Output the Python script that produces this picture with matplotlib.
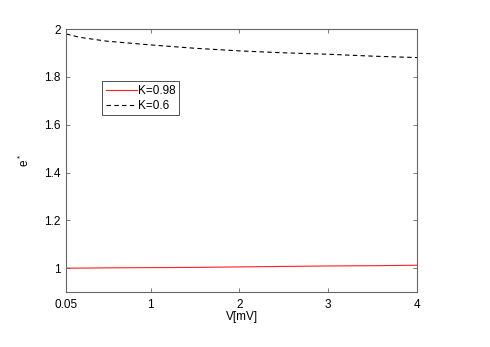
import numpy as np
import matplotlib
matplotlib.use('Agg')
import matplotlib.pyplot as plt

V = [0.05, 0.2, 0.5, 1.0, 1.5, 2.0, 2.5, 3.0, 3.5, 4.0]
e_k098 = [1.000, 1.000, 1.001, 1.002, 1.003, 1.005, 1.007, 1.009, 1.010, 1.012]
e_k06 = [1.980, 1.966, 1.950, 1.934, 1.920, 1.909, 1.901, 1.895, 1.887, 1.881]

xticks = [0.05, 1, 2, 3, 4]
xticklabels = ['0.05', '1', '2', '3', '4']
yticks = [1, 1.2, 1.4, 1.6, 1.8, 2]
yticklabels = ['1', '1.2', '1.4', '1.6', '1.8', '2']

AX_COLOR = '0.4'

plt.rcParams['font.family'] = ['Liberation Sans', 'DejaVu Sans']
plt.rcParams['mathtext.fontset'] = 'custom'
plt.rcParams['mathtext.it'] = 'Liberation Sans'
plt.rcParams['mathtext.rm'] = 'Liberation Sans'

fig = plt.figure(figsize=(4.9, 3.47), dpi=100)
ax = fig.add_axes([0.135, 0.1585, 0.716, 0.7575])

ax.plot(V, e_k098, color='#ff2020', lw=0.8, label='K=0.98')
ax.plot(V, e_k06, color='black', lw=0.8, ls=(0, (4, 3)), label='K=0.6')

ax.set_xlim(0.05, 4)
ax.set_ylim(0.9, 2)
ax.set_xticks(xticks)
ax.set_xticklabels(xticklabels)
ax.set_yticks(yticks)
ax.set_yticklabels(yticklabels)

ax.tick_params(direction='in', length=3, width=0.6, colors=AX_COLOR,
               labelcolor='black', labelsize=8.5, top=True, right=True)
ax.tick_params(axis='x', pad=5)
ax.tick_params(axis='y', pad=4)
for sp in ax.spines.values():
    sp.set_color(AX_COLOR)
    sp.set_linewidth(0.8)

ax.set_xlabel('V[mV]', fontsize=8.5, labelpad=0)
ax.set_ylabel(r'$\mathregular{e^*}$', fontsize=8.5, labelpad=9)

leg = ax.legend(loc='upper left', bbox_to_anchor=(0.103, 0.802), fontsize=8.5,
                frameon=True, fancybox=False, handlelength=2.6, handletextpad=0.15,
                borderpad=0.3, labelspacing=0.25, borderaxespad=0)
leg.get_frame().set_edgecolor('black')
leg.get_frame().set_linewidth(0.6)

fig.savefig('out.png', dpi=100, facecolor='white')
